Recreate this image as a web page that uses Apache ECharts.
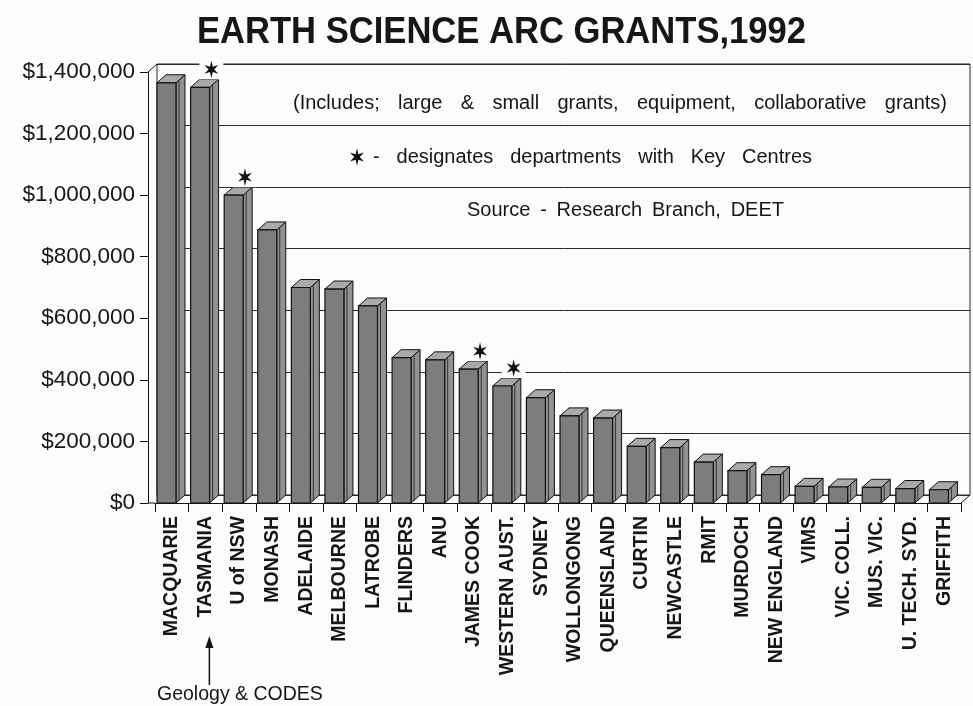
<!DOCTYPE html>
<html><head><meta charset="utf-8">
<script src="https://cdn.jsdelivr.net/npm/echarts@6/dist/echarts.min.js"></script>
<style>html,body{margin:0;padding:0;background:#fcfcfa}#c{width:973px;height:706px}</style>
</head><body><div id="c"></div>
<script>
// ---- data ----
const categories = ['MACQUARIE','TASMANIA','U of NSW','MONASH','ADELAIDE','MELBOURNE','LATROBE','FLINDERS','ANU','JAMES COOK','WESTERN AUST.','SYDNEY','WOLLONGONG','QUEENSLAND','CURTIN','NEWCASTLE','RMIT','MURDOCH','NEW ENGLAND','VIMS','VIC. COLL.','MUS. VIC.','U. TECH. SYD.','GRIFFITH'];
const grants = [1365000,1350000,1000000,887000,700000,695000,640000,472000,465000,435000,380000,342000,283000,276000,184000,180000,133000,105000,92000,54000,52000,51000,47000,43000];
const keyCentres = ['TASMANIA','U of NSW','JAMES COOK','WESTERN AUST.'];
const yMin = 0, yMax = 1400000, yStep = 200000;
const titleText = 'EARTH SCIENCE ARC GRANTS,1992';
const noteIncludes = '(Includes; large & small grants, equipment, collaborative grants)';
const noteKey = '- designates departments with Key Centres';
const noteSource = 'Source - Research Branch, DEET';
const pointerCategory = 'TASMANIA';
const pointerText = 'Geology & CODES';

// ---- style / layout ----
const FONT = '"Liberation Sans", Arial, Helvetica, sans-serif';
const INK = '#161616';
const BG = '#fcfcfa';
const DX = 9, DY = 8;               // depth of the 3D boxes / back wall
const G = {left:155, right:12, top:72, bottom:203};
const FRONT = '#7d7d7d', SIDE = '#929292', TOP = '#a9a9a9', EDGE = '#111';

const chart = echarts.init(document.getElementById('c'), null, {renderer:'canvas'});

function starPoints(cx, cy, ro, ri){
  const pts = [];
  for (let k = 0; k < 12; k++){
    const a = (-90 + k*30) * Math.PI/180;
    const r = k % 2 ? ri : ro;
    pts.push([cx + r*Math.cos(a), cy + r*Math.sin(a)*1.1]);
  }
  return pts;
}

const barData = categories.map((c,i)=>[i, grants[i]]);
const starData = keyCentres.map(n => { const i = categories.indexOf(n); return [i, grants[i]]; });

const option = {
  backgroundColor: BG,
  animation: false,
  grid: [
    {left:G.left, right:G.right, top:G.top, bottom:G.bottom},
    {left:G.left - 7 + DX, right:G.right - DX, top:G.top - DY, bottom:G.bottom + DY,
     show:true, borderColor:'#2a2a2a', borderWidth:1, backgroundColor:'rgba(0,0,0,0)'}
  ],
  xAxis: [
    {type:'category', gridIndex:0, data:categories,
     axisLine:{show:true, lineStyle:{color:EDGE, width:1}},
     axisTick:{show:true, length:9, lineStyle:{color:EDGE}},
     axisLabel:{rotate:90, margin:13, color:INK, fontFamily:FONT, fontWeight:'bold', fontSize:19.5}},
    {type:'category', gridIndex:1, data:categories, show:false}
  ],
  yAxis: [
    {type:'value', gridIndex:0, min:yMin, max:yMax, interval:yStep, offset:7,
     axisLine:{show:true, lineStyle:{color:EDGE, width:1}},
     axisTick:{show:true, length:8, lineStyle:{color:EDGE}},
     splitLine:{show:false},
     axisLabel:{margin:13, color:INK, fontFamily:FONT, fontWeight:'normal', fontSize:22.5,
       formatter: v => '$' + v.toLocaleString('en-US')}},
    {type:'value', gridIndex:1, min:yMin, max:yMax, interval:yStep,
     axisLine:{show:false}, axisTick:{show:false}, axisLabel:{show:false},
     splitLine:{show:true, lineStyle:{color:'#2a2a2a', width:1}}}
  ],
  series: [
    {type:'custom', xAxisIndex:0, yAxisIndex:0, data:barData, z:3,
     renderItem(params, api){
       const i = api.value(0), v = api.value(1);
       const t = api.coord([i, v]), b = api.coord([i, 0]);
       const bw = api.size([1,0])[0];
       const x0 = t[0] - bw*0.44, w = bw*0.565;
       const y0 = t[1], y1 = b[1];
       return {type:'group', children:[
         {type:'polygon', shape:{points:[[x0+w,y0],[x0+w+DX,y0-DY],[x0+w+DX,y1-DY],[x0+w,y1]]},
          style:{fill:SIDE, stroke:EDGE, lineWidth:1}},
         {type:'line', shape:{x1:x0+w+3, y1:y0-2, x2:x0+w+3, y2:y1-2}, style:{stroke:'#333', lineWidth:1}},
         {type:'polygon', shape:{points:[[x0,y0],[x0+DX,y0-DY],[x0+w+DX,y0-DY],[x0+w,y0]]},
          style:{fill:TOP, stroke:EDGE, lineWidth:1}},
         {type:'rect', shape:{x:x0, y:y0, width:w, height:y1-y0},
          style:{fill:FRONT, stroke:EDGE, lineWidth:1.2}}
       ]};
     }},
    {type:'custom', xAxisIndex:0, yAxisIndex:0, data:starData, z:4,
     renderItem(params, api){
       const i = api.value(0), v = api.value(1);
       const t = api.coord([i, v]);
       const cx = t[0] + 6, cy = t[1] - 18;
       return {type:'group', children:[
         {type:'rect', shape:{x:cx-12, y:cy-10, width:24, height:20}, style:{fill:BG}},
         {type:'polygon', shape:{points:starPoints(cx, cy, 8, 2.8)}, style:{fill:'#111'}}
       ]};
     }}
  ]
};
chart.setOption(option);

// ---- annotations (layout only) ----
const mctx = document.createElement('canvas').getContext('2d');
function measure(txt, size, weight){ mctx.font = (weight||'normal') + ' ' + size + 'px ' + FONT; return mctx.measureText(txt).width; }
function justified(text, x0, x1, y, size){
  const words = text.split(' ');
  const ws = words.map(w => measure(w, size));
  const tot = ws.reduce((a,b)=>a+b,0);
  const gap = words.length > 1 ? (x1 - x0 - tot)/(words.length-1) : 0;
  let x = x0; const out = [];
  words.forEach((w,k)=>{
    out.push({type:'text', x:x, y:y, z:10, style:{text:w, fill:INK, font:'normal '+size+'px '+FONT, textAlign:'left', textVerticalAlign:'middle'}});
    x += ws[k] + gap;
  });
  return out;
}

const tSize = 37;
const tW = measure(titleText, tSize, 'bold');
const gfx = [];
gfx.push({type:'text', x:197, y:33, scaleX:609/tW, z:10,
  style:{text:titleText, fill:INK, font:'bold '+tSize+'px '+FONT, textAlign:'left', textVerticalAlign:'middle'}});
gfx.push(...justified(noteIncludes, 293, 947, 103, 20));
gfx.push({type:'polygon', z:10, shape:{points:starPoints(357, 157, 8, 2.8)}, style:{fill:'#111'}});
gfx.push(...justified(noteKey, 373, 812, 157, 20));
gfx.push(...justified(noteSource, 467, 784, 210, 20));

// frame corner lines
const yTop = G.top, yBase = 706 - G.bottom, xR = 973 - G.right;
gfx.push({type:'line', z:5, shape:{x1:G.left-7, y1:yTop, x2:G.left-7+DX, y2:yTop-DY}, style:{stroke:EDGE, lineWidth:1}});
gfx.push({type:'line', z:5, shape:{x1:G.left-7, y1:yBase, x2:G.left, y2:yBase}, style:{stroke:EDGE, lineWidth:1}});
gfx.push({type:'line', z:5, shape:{x1:xR, y1:yBase, x2:xR+DX, y2:yBase-DY}, style:{stroke:EDGE, lineWidth:1}});

// pointer arrow
const pi = categories.indexOf(pointerCategory);
const px = chart.convertToPixel({gridIndex:0}, [pi, 0])[0] + 4;
gfx.push({type:'line', z:10, shape:{x1:px, y1:685, x2:px, y2:645}, style:{stroke:'#111', lineWidth:1.5}});
gfx.push({type:'polygon', z:10, shape:{points:[[px,636],[px-4,648],[px+4,648]]}, style:{fill:'#111'}});
gfx.push({type:'text', x:157, y:695, z:10, style:{text:pointerText, fill:INK, font:'normal 19.5px '+FONT, textAlign:'left', textVerticalAlign:'middle'}});

chart.setOption({graphic: gfx});
</script>
</body></html>
